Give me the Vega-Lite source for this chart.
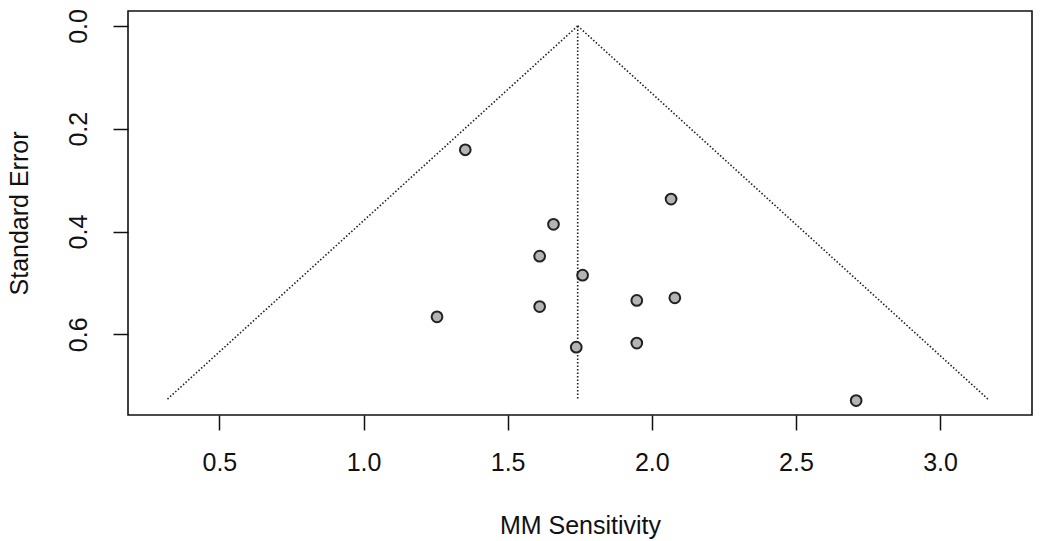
{
  "$schema": "https://vega.github.io/schema/vega-lite/v6.json",
  "autosize": {"type": "none"},
  "padding": {"left": 128, "top": 11, "right": 12, "bottom": 126},
  "width": 904,
  "height": 404,
  "background": "white",
  "config": {
    "view": {"stroke": "#111", "strokeWidth": 1.6},
    "font": "Liberation Sans",
    "axis": {
      "domain": false, "grid": false, "tickColor": "#111", "tickSize": 15, "tickWidth": 1.5,
      "labelFont": "Liberation Sans", "labelFontSize": 25, "labelColor": "#111",
      "titleFont": "Liberation Sans", "titleFontSize": 25, "titleFontWeight": "normal", "titleColor": "#111"
    }
  },
  "datasets": {
    "studies": [
      {"sens": 1.353, "se": 0.241},
      {"sens": 2.067, "se": 0.337},
      {"sens": 1.659, "se": 0.386},
      {"sens": 1.611, "se": 0.448},
      {"sens": 1.760, "se": 0.485},
      {"sens": 1.948, "se": 0.534},
      {"sens": 2.080, "se": 0.529},
      {"sens": 1.255, "se": 0.566},
      {"sens": 1.611, "se": 0.546},
      {"sens": 1.738, "se": 0.625},
      {"sens": 1.948, "se": 0.617},
      {"sens": 2.709, "se": 0.729}
    ],
    "funnel": [
      {"sens": 0.320, "se": 0.726, "part": "left", "ord": 1},
      {"sens": 1.743, "se": 0.0, "part": "left", "ord": 2},
      {"sens": 1.743, "se": 0.0, "part": "right", "ord": 1},
      {"sens": 3.166, "se": 0.726, "part": "right", "ord": 2},
      {"sens": 1.743, "se": 0.0, "part": "center", "ord": 1},
      {"sens": 1.743, "se": 0.726, "part": "center", "ord": 2}
    ]
  },
  "layer": [
    {
      "data": {"name": "funnel"},
      "mark": {"type": "line", "color": "#222", "strokeWidth": 1.6, "strokeDash": [1.5, 2], "clip": true},
      "encoding": {
        "x": {"field": "sens", "type": "quantitative",
              "scale": {"domain": [0.183, 3.319], "nice": false, "zero": false},
              "axis": {"title": "MM Sensitivity", "values": [0.5, 1.0, 1.5, 2.0, 2.5, 3.0], "format": ".1f",
                       "labelPadding": 20, "titlePadding": 38}},
        "y": {"field": "se", "type": "quantitative",
              "scale": {"domain": [-0.029, 0.757], "nice": false, "zero": false, "reverse": true},
              "axis": {"title": "Standard Error", "values": [0.0, 0.2, 0.4, 0.6], "format": ".1f",
                       "labelAngle": -90, "labelAlign": "center", "labelBaseline": "alphabetic",
                       "labelPadding": 27, "titlePadding": 34}},
        "detail": {"field": "part"},
        "order": {"field": "ord"}
      }
    },
    {
      "data": {"name": "studies"},
      "mark": {"type": "point", "shape": "circle", "filled": true, "fill": "#b4b4b4", "stroke": "#222", "strokeWidth": 2, "size": 115, "opacity": 1},
      "encoding": {
        "x": {"field": "sens", "type": "quantitative"},
        "y": {"field": "se", "type": "quantitative"}
      }
    }
  ]
}
